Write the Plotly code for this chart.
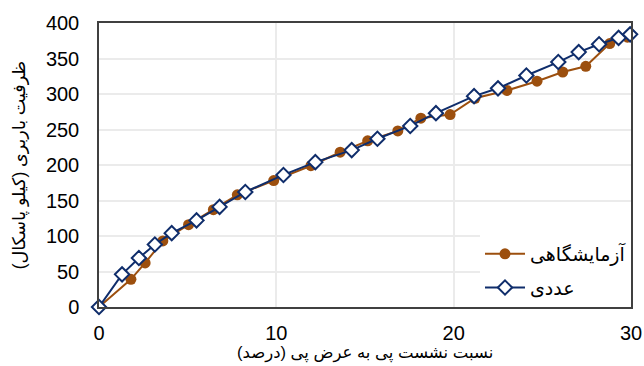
import plotly.graph_objects as go

# Data
exp_x = [0, 1.8, 2.6, 3.6, 5.05, 6.45, 7.8, 9.85, 11.95, 13.6, 15.15, 16.85,
         18.15, 19.8, 21.2, 23.0, 24.7, 26.15, 27.45, 28.8, 29.8]
exp_y = [0, 39, 62, 93, 116, 137, 158, 178, 199, 218, 234, 248,
         266, 271, 294, 305, 318, 331, 339, 371, 380]

num_x = [0, 1.3, 2.25, 3.15, 4.1, 5.5, 6.8, 8.25, 10.4, 12.2, 14.25, 15.7,
         17.55, 19.0, 21.15, 22.5, 24.1, 25.9, 27.05, 28.2, 29.3, 29.95]
num_y = [0, 46, 69, 88, 104, 122, 141, 162, 186, 204, 221, 237,
         255, 273, 297, 308, 326, 345, 359, 370, 379, 384]

exp_name = "آزمایشگاهی"
num_name = "عددی"
x_title = "نسبت نشست پی به عرض پی (درصد)"
y_title = "ظرفیت باربری (کیلو پاسکال)"

brown = "#9C4F0E"
navy = "#0F2D6B"
font_fam = "Liberation Sans, DejaVu Sans, sans-serif"

fig = go.Figure()
fig.add_trace(go.Scatter(
    x=exp_x, y=exp_y, name=exp_name, mode="lines+markers",
    legendgroup="a",
    line=dict(color=brown, width=2),
    marker=dict(symbol="circle", size=11, color=brown),
    cliponaxis=False,
))
fig.add_trace(go.Scatter(
    x=num_x, y=num_y, name=num_name, mode="lines+markers",
    legendgroup="b",
    line=dict(color=navy, width=2),
    marker=dict(symbol="diamond", size=11, color="white",
                line=dict(color=navy, width=2)),
    cliponaxis=False,
))

fig.update_layout(
    width=644, height=366,
    margin=dict(l=99, r=13, t=23, b=59),
    paper_bgcolor="white", plot_bgcolor="white",
    font=dict(family=font_fam, color="#000000"),
    showlegend=True,
    legend=dict(
        x=1.0, xanchor="right", y=0.0, yanchor="bottom",
        bgcolor="white", font=dict(size=19, family=font_fam),
        tracegroupgap=6, itemwidth=40,
    ),
    annotations=[
        dict(text=x_title, xref="paper", yref="paper", x=0.5, y=0,
             xanchor="center", yanchor="middle", yshift=-46, showarrow=False,
             font=dict(size=16.5, family=font_fam)),
    ],
)
fig.update_xaxes(
    range=[0, 30], tickvals=[0, 10, 20, 30],
    showgrid=True, gridcolor="#EBEBEB", gridwidth=1.5,
    showline=True, linecolor="#404040", linewidth=1.5, mirror=True,
    ticks="", ticklabelstandoff=7,
    tickfont=dict(size=20, family=font_fam),
    automargin=False,
    zeroline=False,
)
fig.update_yaxes(
    range=[0, 400], tickvals=[0, 50, 100, 150, 200, 250, 300, 350, 400],
    showgrid=True, gridcolor="#EBEBEB", gridwidth=1.5,
    showline=True, linecolor="#404040", linewidth=1.5, mirror=True,
    ticks="", ticklabelstandoff=14,
    tickfont=dict(size=20, family=font_fam),
    title=dict(text=y_title, font=dict(size=17.5, family=font_fam), standoff=16),
    automargin=False,
    zeroline=False,
)

fig.write_html("out.html")
